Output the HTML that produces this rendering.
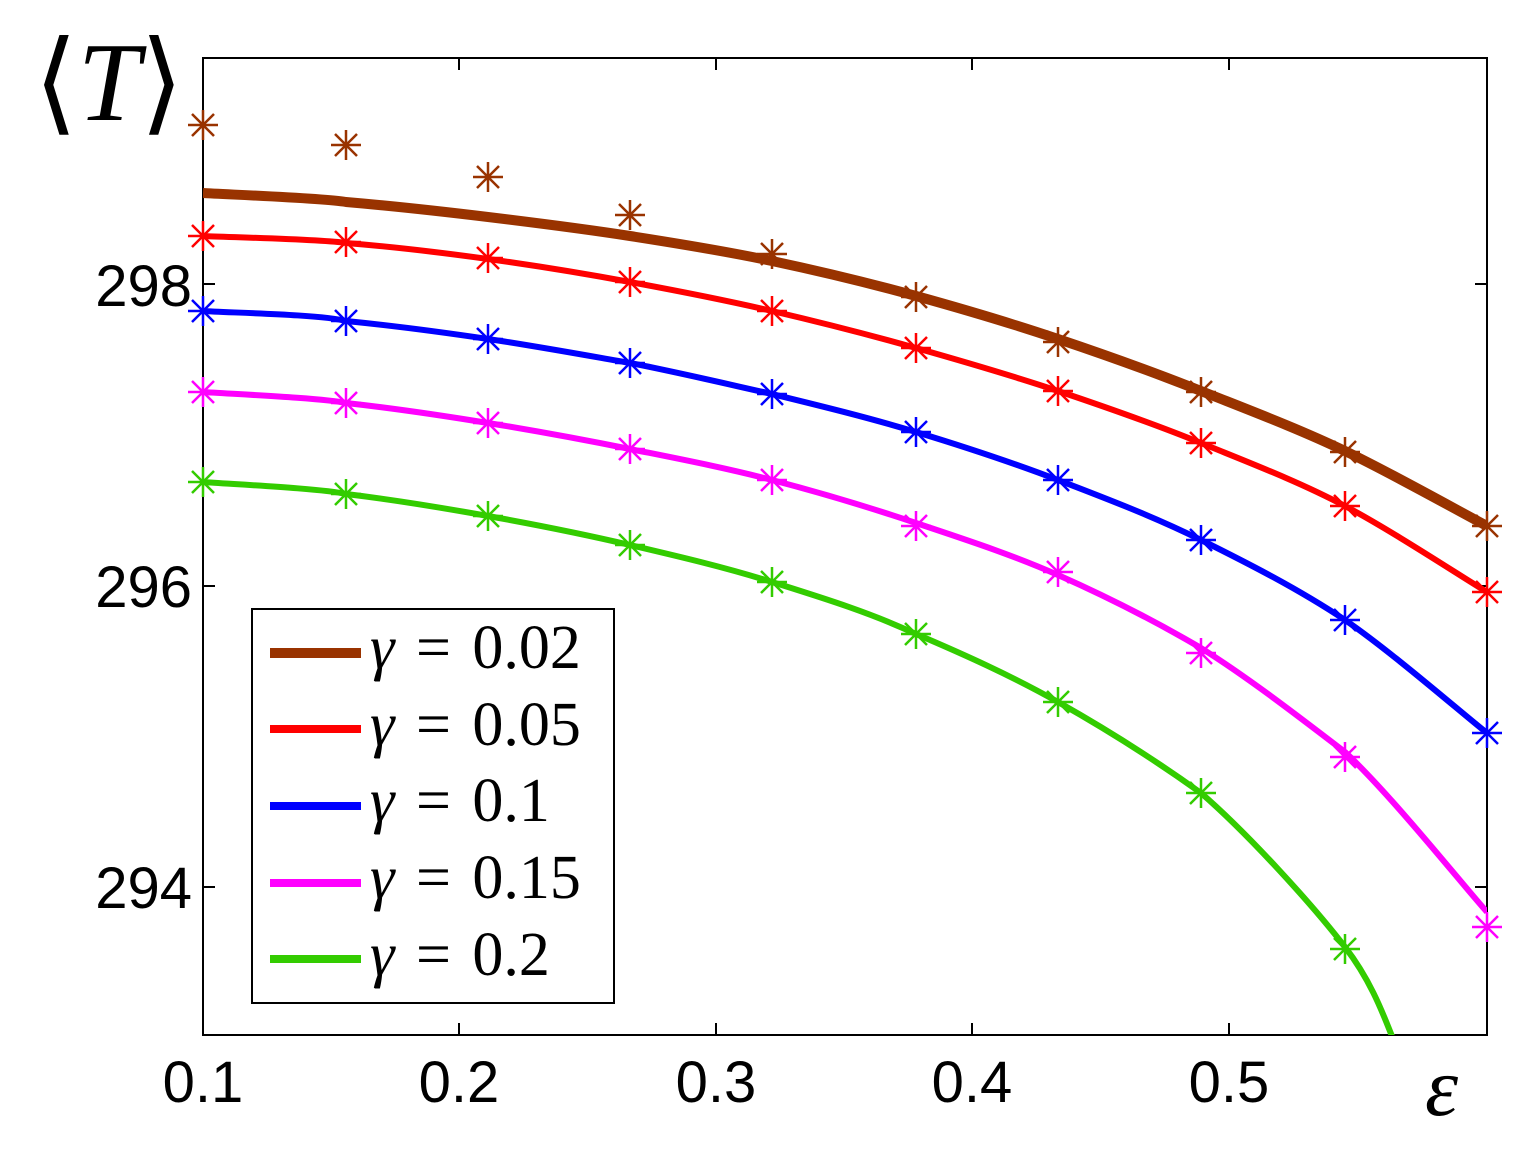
<!DOCTYPE html>
<html><head><style>body{margin:0;background:#fff}svg{display:block}</style></head><body>
<svg width="1529" height="1152" xmlns="http://www.w3.org/2000/svg">
<defs>
<clipPath id="c"><rect x="203" y="58" width="1284" height="977"/></clipPath>
<g id="m"><path d="M-15,0H15M0,-15V15M-11,-11L11,11M-11,11L11,-11" stroke-width="2.5"/></g>
</defs>
<rect x="203" y="58" width="1284" height="977" fill="none" stroke="#000" stroke-width="2"/>
<g stroke="#000" stroke-width="2">
<path d="M459,1035v-12M716,1035v-12M972,1035v-12M1229,1035v-12M459,58v12M716,58v12M972,58v12M1229,58v12"/>
<path d="M203,284h12M203,586h12M203,887h12M1487,284h-12M1487,586h-12M1487,887h-12"/>
</g>
<g font-family="Liberation Sans, sans-serif" font-size="58" fill="#000">
<text x="192" y="306" text-anchor="end">298</text>
<text x="192" y="607" text-anchor="end">296</text>
<text x="192" y="908" text-anchor="end">294</text>
<text x="203" y="1102" text-anchor="middle">0.1</text>
<text x="459" y="1102" text-anchor="middle">0.2</text>
<text x="716" y="1102" text-anchor="middle">0.3</text>
<text x="972" y="1102" text-anchor="middle">0.4</text>
<text x="1229" y="1102" text-anchor="middle">0.5</text>
</g>
<text x="34" y="120" font-family="Liberation Serif, serif" font-size="112" fill="#000">⟨<tspan font-style="italic">T</tspan>⟩</text>
<text x="1425" y="1115" font-family="Liberation Serif, serif" font-style="italic" font-size="84" fill="#000">ε</text>
<g clip-path="url(#c)" fill="none" stroke-linejoin="round">
<path stroke="#993300" stroke-width="10" d="M203,193 C227,194.5 322,198 346,202 C393,206 441,211.3 488,217 C535,222.7 583,228.7 630,236 C677,243.3 725,251 772,261 C819,271 869,283 916,296 C963,309 1011,323.2 1058,339 C1105,354.8 1154,372.3 1201,391 C1248,409.7 1298,428.5 1345,451 C1392,473.5 1463,513.5 1487,526"/>
<path stroke="#ff0000" stroke-width="6" d="M203,236 C227,237.2 322,239.2 346,243 C393,246.8 441,252.5 488,259 C535,265.5 583,273.3 630,282 C677,290.7 725,300 772,311 C819,322 869,334.7 916,348 C963,361.3 1011,375.2 1058,391 C1105,406.8 1154,423.8 1201,443 C1248,462.2 1298,481.2 1345,506 C1392,530.8 1463,577.7 1487,592"/>
<path stroke="#0000ff" stroke-width="6" d="M203,311 C227,312.7 322,314.3 346,321 C393,325.7 441,332 488,339 C535,346 583,354.8 630,363 C677,372.2 725,383.5 772,394 C819,405.5 869,417.7 916,432 C963,446.3 1011,462 1058,480 C1105,498 1154,516.7 1201,540 C1248,563.3 1298,588.8 1345,620 C1392,652.2 1463,714.2 1487,733"/>
<path stroke="#ff00ff" stroke-width="6" d="M203,392 C227,393.8 322,397.8 346,403 C393,408.2 441,415.3 488,423 C535,430.7 583,439.5 630,449 C677,458.5 725,467.7 772,480 C819,492.3 869,507.2 916,523 C963,538.8 1011,554.2 1058,575 C1105,595.8 1154,620.5 1201,648 C1248,677.5 1298,716 1345,752 C1392,796 1463,885.3 1487,912"/>
<path stroke="#33cc00" stroke-width="6" d="M203,482 C227,484 322,488.3 346,494 C393,499.7 441,507.5 488,516 C535,524.5 583,534 630,545 C677,556 725,567.2 772,582 C819,596.8 869,612 916,634 C963,654 1011,675.5 1058,702 C1105,728.5 1154,759.2 1201,793 C1248,833.8 1312,904.2 1345,947 C1378,989.8 1389,1032.8 1398,1050"/>
</g>
<g>
<g stroke="#993300"><use href="#m" x="203" y="125"/><use href="#m" x="346" y="145"/><use href="#m" x="488" y="177"/><use href="#m" x="630" y="215"/><use href="#m" x="772" y="254"/><use href="#m" x="916" y="297"/><use href="#m" x="1058" y="342"/><use href="#m" x="1201" y="392"/><use href="#m" x="1345" y="452"/><use href="#m" x="1487" y="526"/></g>
<g stroke="#ff0000"><use href="#m" x="203" y="236"/><use href="#m" x="346" y="242"/><use href="#m" x="488" y="258"/><use href="#m" x="630" y="282"/><use href="#m" x="772" y="311"/><use href="#m" x="916" y="348"/><use href="#m" x="1058" y="391"/><use href="#m" x="1201" y="443"/><use href="#m" x="1345" y="506"/><use href="#m" x="1487" y="592"/></g>
<g stroke="#0000ff"><use href="#m" x="203" y="311"/><use href="#m" x="346" y="321"/><use href="#m" x="488" y="339"/><use href="#m" x="630" y="363"/><use href="#m" x="772" y="394"/><use href="#m" x="916" y="432"/><use href="#m" x="1058" y="480"/><use href="#m" x="1201" y="540"/><use href="#m" x="1345" y="620"/><use href="#m" x="1487" y="733"/></g>
<g stroke="#ff00ff"><use href="#m" x="203" y="392"/><use href="#m" x="346" y="403"/><use href="#m" x="488" y="423"/><use href="#m" x="630" y="449"/><use href="#m" x="772" y="480"/><use href="#m" x="916" y="526"/><use href="#m" x="1058" y="572"/><use href="#m" x="1201" y="653"/><use href="#m" x="1345" y="757"/><use href="#m" x="1487" y="927"/></g>
<g stroke="#33cc00"><use href="#m" x="203" y="482"/><use href="#m" x="346" y="494"/><use href="#m" x="488" y="516"/><use href="#m" x="630" y="545"/><use href="#m" x="772" y="582"/><use href="#m" x="916" y="634"/><use href="#m" x="1058" y="702"/><use href="#m" x="1201" y="793"/><use href="#m" x="1345" y="949"/></g>
</g>
<rect x="252" y="609" width="362" height="394" fill="#fff" stroke="#000" stroke-width="2"/>
<g stroke-width="8">
<path d="M270,653H361" stroke="#993300" stroke-width="10"/>
<path d="M270,729H361" stroke="#ff0000"/>
<path d="M270,806H361" stroke="#0000ff"/>
<path d="M270,883H361" stroke="#ff00ff"/>
<path d="M270,959H361" stroke="#33cc00"/>
</g>
<g font-family="Liberation Serif, serif" font-size="62" fill="#000">
<text x="370" y="668"><tspan font-style="italic">γ</tspan> <tspan dx="6">=</tspan> <tspan dx="6">0.02</tspan></text>
<text x="370" y="745"><tspan font-style="italic">γ</tspan> <tspan dx="6">=</tspan> <tspan dx="6">0.05</tspan></text>
<text x="370" y="821"><tspan font-style="italic">γ</tspan> <tspan dx="6">=</tspan> <tspan dx="6">0.1</tspan></text>
<text x="370" y="898"><tspan font-style="italic">γ</tspan> <tspan dx="6">=</tspan> <tspan dx="6">0.15</tspan></text>
<text x="370" y="975"><tspan font-style="italic">γ</tspan> <tspan dx="6">=</tspan> <tspan dx="6">0.2</tspan></text>
</g>
</svg>
</body></html>
